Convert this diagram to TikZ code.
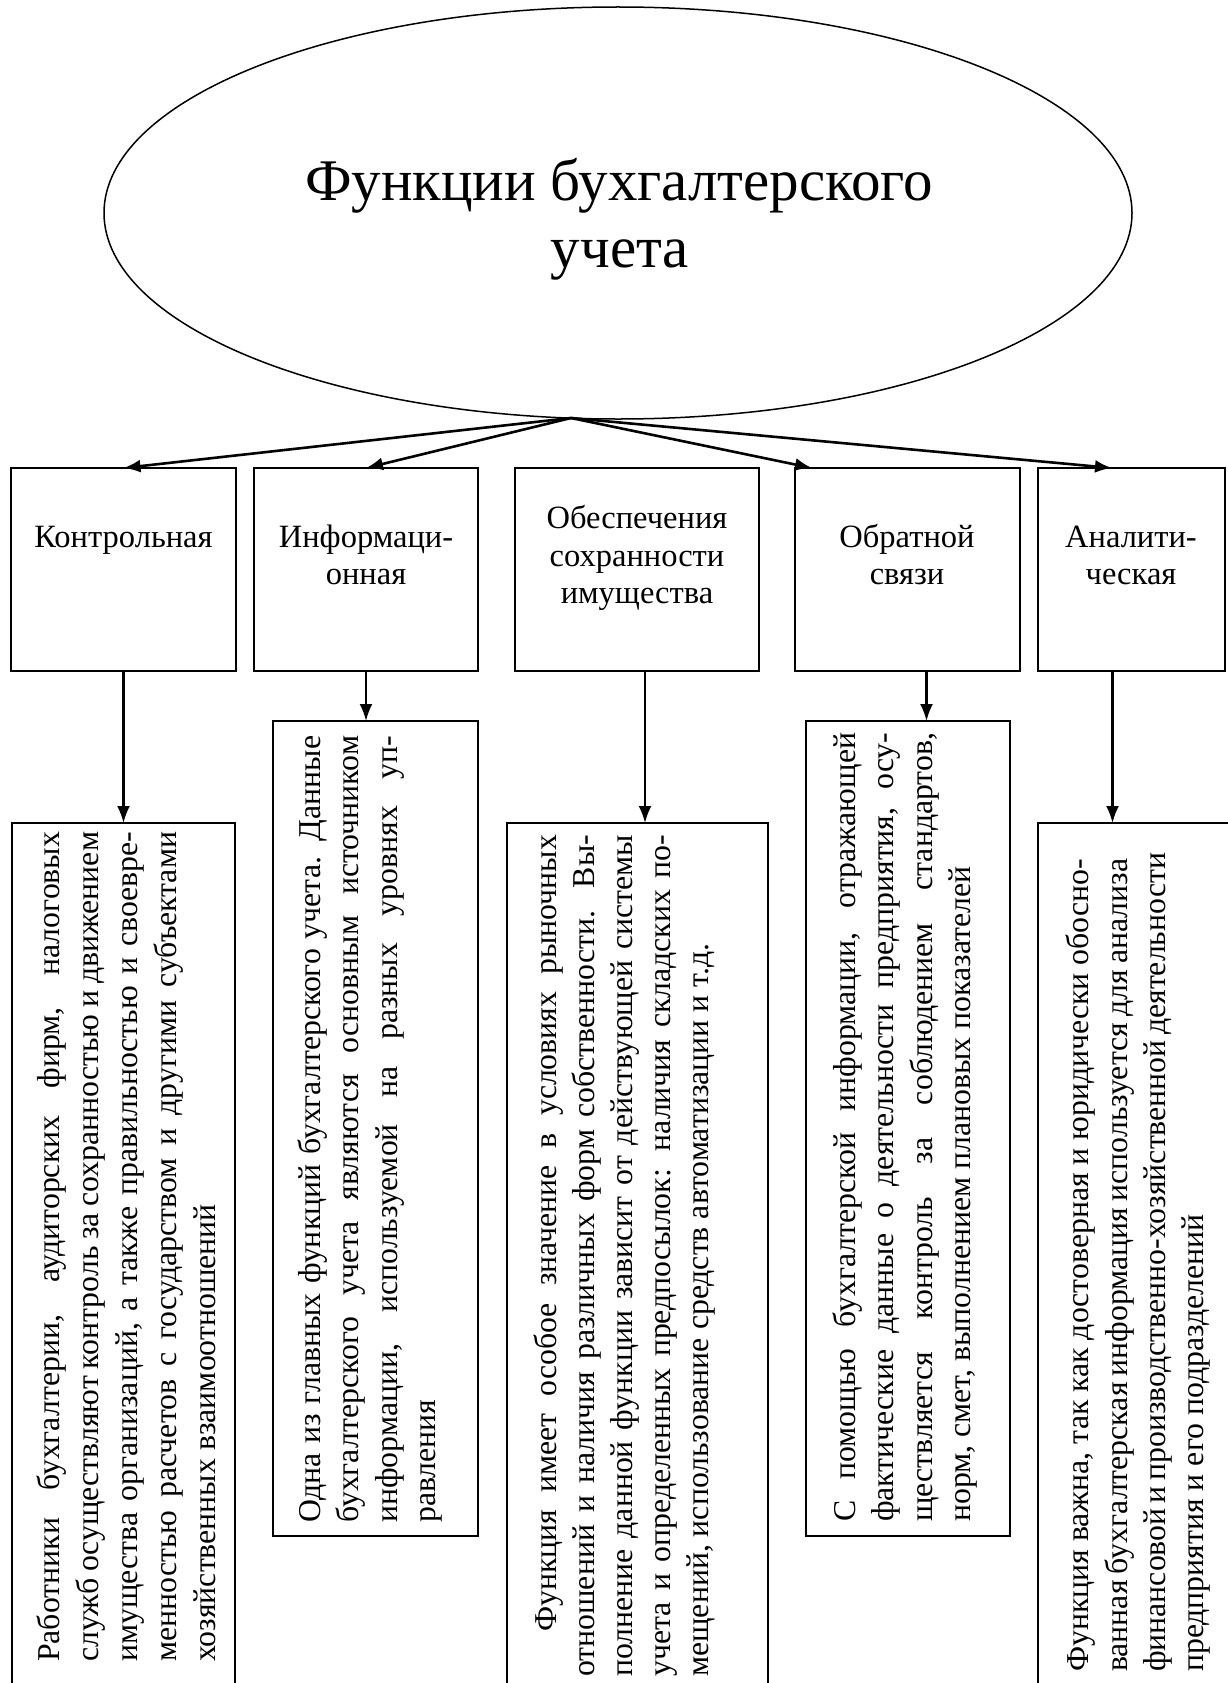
\documentclass[tikz,border=0pt]{standalone}
\usepackage{fontspec}
\setmainfont{Liberation Serif}
\usetikzlibrary{arrows.meta,shapes.geometric}
\begin{document}
\begin{tikzpicture}[x=1pt,y=-1pt,
  box/.style={draw,line width=1.6pt,inner sep=0pt,outer sep=0pt,anchor=north west},
  lowbox/.style={draw,line width=2.2pt,inner sep=0pt,outer sep=0pt,anchor=north west},
  arr/.style={line width=2.6pt,-{Latex[length=17pt,width=13pt]}},
  varr/.style={line width=2.2pt,-{Latex[length=17pt,width=13pt]}},
  lbl/.style={inner sep=0pt,anchor=base,font=\fontsize{32.5}{37}\selectfont},
  rl/.style={inner sep=0pt,anchor=base west,rotate=90,font=\fontsize{31.8}{38}\selectfont},
  ttl/.style={inner sep=0pt,anchor=base,font=\fontsize{59}{67}\selectfont}]
\useasboundingbox (0,0) rectangle (1227,1683);
\fill[white] (0,0) rectangle (1227,1683);

% ellipse and title
\node[draw,ellipse,line width=1.5pt,minimum width=1028pt,minimum height=412pt,inner sep=0pt,outer sep=0pt] (ell) at (618,213) {};
\node[ttl] (ti1) at (619,200) {Функции бухгалтерского};
\node[ttl] (ti2) at (620,267) {учета};

% top row
\node[box,minimum width=225pt,minimum height=203pt] (t1) at (11,468) {};
\node[box,minimum width=224pt,minimum height=203pt] (t2) at (254,468) {};
\node[box,minimum width=244pt,minimum height=203pt] (t3) at (515,468) {};
\node[box,minimum width=225pt,minimum height=203pt] (t4) at (795,468) {};
\node[box,minimum width=187pt,minimum height=203pt] (t5) at (1038,468) {};

\node[lbl] (k1) at (123.5,547) {Контрольная};
\node[lbl] (k2a) at (366,547) {Информаци-};
\node[lbl] (k2b) at (366,584) {онная};
\node[lbl] (k3a) at (637,528) {Обеспечения};
\node[lbl] (k3b) at (637,566) {сохранности};
\node[lbl] (k3c) at (637,603) {имущества};
\node[lbl] (k4a) at (907,547) {Обратной};
\node[lbl] (k4b) at (907,584) {связи};
\node[lbl] (k5a) at (1131,547) {Аналити-};
\node[lbl] (k5b) at (1131,584) {ческая};

% arrows from ellipse
\coordinate (hub) at (571,418);
\draw[arr] (hub) -- (t1.north);
\draw[arr] (hub) -- (t2.north);
\draw[arr] (hub) -- ([xshift=17pt]t4.north west);
\draw[arr] (hub) -- ([xshift=74pt]t5.north west);

% lower boxes
\node[lowbox,minimum width=223pt,minimum height=880pt] (d1) at (12,823) {};
\node[lowbox,minimum width=205pt,minimum height=815pt] (d2) at (273,721) {};
\node[lowbox,minimum width=261pt,minimum height=880pt] (d3) at (507,823) {};
\node[lowbox,minimum width=204pt,minimum height=815pt] (d4) at (806,721) {};
\node[lowbox,minimum width=210pt,minimum height=880pt] (d5) at (1038,823) {};

% vertical arrows
\draw[varr] (t1.south) -- (t1.south |- d1.north);
\draw[varr] (t2.south) -- (t2.south |- d2.north);
\draw[varr] ([xshift=8pt]t3.south) -- ([xshift=8pt]t3.south |- d3.north);
\draw[varr] ([xshift=19pt]t4.south) -- ([xshift=19pt]t4.south |- d4.north);
\draw[varr] ([xshift=-19pt]t5.south) -- ([xshift=-19pt]t5.south |- d5.north);

% box 1 text
\node[rl] (a1) at (59,1662) {\makebox[830pt][s]{Работники бухгалтерии, аудиторских фирм, налоговых}};
\node[rl] (a2) at (98,1662) {\makebox[830pt][s]{служб осуществляют контроль за сохранностью и движением}};
\node[rl] (a3) at (137,1662) {\makebox[830pt][s]{имущества организаций, а также правильностью и своевре-}};
\node[rl] (a4) at (176,1662) {\makebox[830pt][s]{менностью расчетов с государством и другими субъектами}};
\node[rl] (a5) at (215,1662) {хозяйственных взаимоотношений};

% box 2 text
\node[rl] (b1) at (320,1523) {\makebox[787pt][s]{Одна из главных функций бухгалтерского учета. Данные}};
\node[rl] (b2) at (358,1523) {\makebox[787pt][s]{бухгалтерского учета являются основным источником}};
\node[rl] (b3) at (397,1523) {\makebox[787pt][s]{информации, используемой на разных уровнях уп-}};
\node[rl] (b4) at (435,1523) {равления};

% box 3 text
\node[rl] (c1) at (556,1632) {\makebox[797pt][s]{Функция имеет особое значение в условиях рыночных}};
\node[rl] (c2) at (594,1677) {\makebox[842pt][s]{отношений и наличия различных форм собственности. Вы-}};
\node[rl] (c3) at (632,1677) {\makebox[842pt][s]{полнение данной функции зависит от действующей системы}};
\node[rl] (c4) at (670,1677) {\makebox[842pt][s]{учета и определенных предпосылок: наличия складских по-}};
\node[rl] (c5) at (708,1677) {мещений, использование средств автоматизации и т.д.};

% box 4 text
\node[rl] (e1) at (855,1522) {\makebox[789pt][s]{С помощью бухгалтерской информации, отражающей}};
\node[rl] (e2) at (893,1522) {\makebox[789pt][s]{фактические данные о деятельности предприятия, осу-}};
\node[rl] (e3) at (932,1522) {\makebox[789pt][s]{ществляется контроль за соблюдением стандартов,}};
\node[rl] (e4) at (970,1522) {норм, смет, выполнением плановых показателей};

% box 5 text
\node[rl] (f1) at (1088,1672) {\makebox[813pt][s]{Функция важна, так как достоверная и юридически обосно-}};
\node[rl] (f2) at (1127,1672) {\makebox[813pt][s]{ванная бухгалтерская информация используется для анализа}};
\node[rl] (f3) at (1165,1672) {\makebox[813pt][s]{финансовой и производственно-хозяйственной деятельности}};
\node[rl] (f4) at (1203,1672) {предприятия и его подразделений};
\end{tikzpicture}
\end{document}
